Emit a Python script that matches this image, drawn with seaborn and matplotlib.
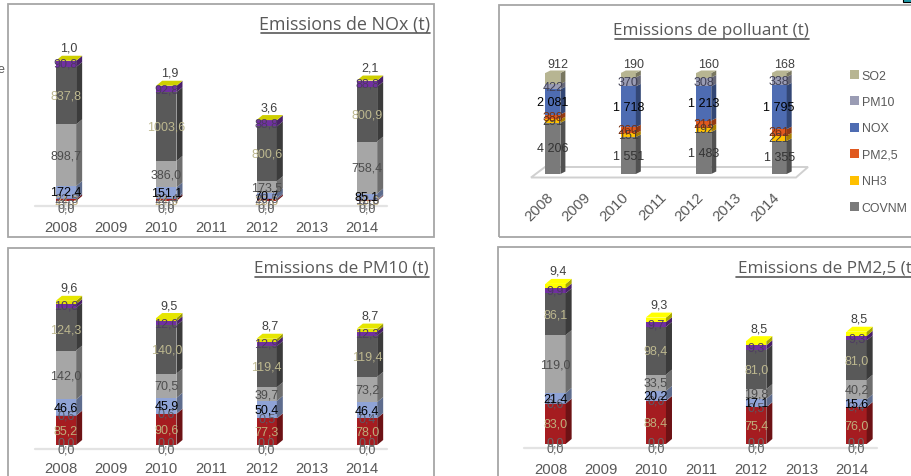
import matplotlib
matplotlib.use("Agg")
import matplotlib.pyplot as plt
from matplotlib.lines import Line2D
from matplotlib.patches import Patch, Polygon, Rectangle
from matplotlib.transforms import ScaledTranslation
import pandas as pd
import seaborn as sns

sns.set_theme(style="white")
plt.rcParams["font.family"] = ["Liberation Sans", "DejaVu Sans"]

W, H, DPI = 912, 477, 100
YEARS = [2008, 2009, 2010, 2011, 2012, 2013, 2014]
MEASURED = [2008, 2010, 2012, 2014]
GREY_TXT = "#595959"

# Emissions by sector, tonnes, stacked from the bottom of each column
nox_a = [0.0, 0.0, 0.0, 0.0]
nox_b = [0.0, 0.0, 0.0, 0.0]
nox_red = [24.3, 24.9, 23.6, 10.8]
nox_thin = [22.5, 22.4, 20.5, 12.6]
nox_blue = [172.4, 151.1, 70.7, 85.1]
nox_light = [898.7, 386.0, 173.5, 758.4]
nox_dark = [837.8, 1003.6, 800.6, 800.9]
nox_purple = [90.8, 92.8, 88.8, 88.8]
nox_yellow = [1.0, 1.9, 3.6, 2.1]

pm10_a = [0.0, 0.0, 0.0, 0.0]
pm10_b = [0.0, 0.0, 0.0, 0.0]
pm10_red = [85.2, 90.6, 77.3, 78.0]
pm10_thin = [0.6, 0.6, 0.5, 0.4]
pm10_blue = [46.6, 45.9, 50.4, 46.4]
pm10_light = [142.0, 70.5, 39.7, 73.2]
pm10_dark = [124.3, 140.0, 119.4, 119.4]
pm10_purple = [10.8, 12.0, 12.9, 12.3]
pm10_yellow = [9.6, 9.5, 8.7, 8.7]

pm25_a = [0.0, 0.0, 0.0, 0.0]
pm25_b = [0.0, 0.0, 0.0, 0.0]
pm25_red = [83.0, 88.4, 75.4, 76.0]
pm25_thin = [0.6, 0.6, 0.5, 0.4]
pm25_blue = [21.4, 20.2, 17.1, 15.6]
pm25_light = [119.0, 33.5, 19.8, 40.2]
pm25_dark = [86.1, 98.4, 81.0, 81.0]
pm25_purple = [9.9, 9.7, 9.3, 9.3]
pm25_yellow = [9.4, 9.3, 8.5, 8.5]

covnm = [4206, 1551, 1483, 1355]
nh3 = [291, 151, 192, 221]
pm25_total = [388, 260, 211, 261]
nox_total = [2081, 1718, 1213, 1795]
pm10_total = [422, 370, 308, 338]
so2 = [912, 190, 160, 168]

SECTOR_COLORS = ["#8a8a8a", "#c9a227", "#a51c20", "#7d86b8", "#8fa3d6",
                 "#a6a6a6", "#595959", "#7030a0", "#e8e800"]
SECTOR_LABEL_COLORS = ["#5a5a5a", "#6a6a6a", "#bfae7c", "#5a5a66", "#000000",
                       "#4d4d4d", "#bdb88f", "#4d3a63", "#404040"]
POLLUTANT_NAMES = ["COVNM", "NH3", "PM2,5", "NOX", "PM10", "SO2"]
POLLUTANT_COLORS = ["#7a7a7a", "#ffc000", "#e0591f", "#4e6cb2", "#9a9cb4", "#b7b592"]
POLLUTANT_LABEL_COLORS = ["#333333", "#404040", "#7a3010", "#000000", "#404055", "#404040"]
TITLE_FONT = "Open Sans"


def shade(color, factor):
    r, g, b = matplotlib.colors.to_rgb(color)
    return (r * factor, g * factor, b * factor)


def px_axes(fig, left, right, top, bottom):
    return fig.add_axes([left / W, 1 - bottom / H, (right - left) / W, (bottom - top) / H])


def fig_line(fig, x0, x1, y0, y1, **kw):
    fig.add_artist(Line2D([x0 / W, x1 / W], [1 - y0 / H, 1 - y1 / H],
                          transform=fig.transFigure, **kw))


def panel_frame(fig, left, right, top, bottom):
    fig.add_artist(Rectangle((left / W, 1 - bottom / H), (right - left) / W, (bottom - top) / H,
                             transform=fig.transFigure, fill=False,
                             edgecolor="#a6a6a6", linewidth=1.3))


def panel_title(fig, text, right, y, size, line_left):
    fig.text(right / W, 1 - y / H, text, ha="right", va="center", color=GREY_TXT,
             fontsize=size, family=TITLE_FONT)
    fig_line(fig, line_left, right, y + 9, y + 9, color=GREY_TXT, linewidth=1.2)


def stacked_columns(ax, series, colors, width, depth):
    """Stack the series with seaborn and add the side and top faces of each column."""
    bottoms = [0.0] * len(MEASURED)
    segments = []
    for values, color in zip(series, colors):
        frame = pd.DataFrame({"annee": MEASURED, "valeur": values})
        sns.barplot(data=frame, x="annee", y="valeur", order=YEARS, color=color,
                    saturation=1, width=width, bottom=bottoms, errorbar=None,
                    ax=ax, linewidth=0)
        segments.append((list(bottoms), list(values), color))
        bottoms = [b + v for b, v in zip(bottoms, values)]
    dx, dy = depth
    for base, values, color in segments:
        for year, b, v in zip(MEASURED, base, values):
            x = YEARS.index(year) + width / 2
            ax.add_patch(Polygon([(x, b), (x + dx, b + dy), (x + dx, b + v + dy), (x, b + v)],
                                 facecolor=shade(color, 0.66), edgecolor="none",
                                 clip_on=False, zorder=3))
    for year, total in zip(MEASURED, bottoms):
        x = YEARS.index(year)
        ax.add_patch(Polygon([(x - width / 2, total), (x + width / 2, total),
                              (x + width / 2 + dx, total + dy), (x - width / 2 + dx, total + dy)],
                             facecolor=colors[-1], edgecolor="none", clip_on=False, zorder=3))
    return segments


def style_axes(ax, ymax):
    ax.set_xlim(-0.5, 6.5)
    ax.set_ylim(0, ymax)
    ax.set_xlabel("")
    ax.set_ylabel("")
    ax.set_yticks([])
    ax.patch.set_alpha(0)
    for spine in ax.spines.values():
        spine.set_visible(False)


def decimal_panel(fig, title, series, left, right, top, base, scale, title_args,
                  baseline_y, label_y, top_color, zero_drop):
    ax = px_axes(fig, left, right, top, base)
    colors = list(SECTOR_COLORS)
    colors[-1] = top_color
    ymax = (base - top) / scale
    cat_px = (right - left) / 7
    segments = stacked_columns(ax, series, colors, 0.405, (6 / cat_px, 5 / scale))
    style_axes(ax, ymax)

    ax.set_xticks(range(7))
    ax.set_xticklabels(YEARS, fontsize=10.7, color=GREY_TXT)
    ax.tick_params(axis="x", length=0, pad=(label_y - 5.5 - base) * 72 / DPI)
    shift = ScaledTranslation(-5 / DPI, 0, fig.dpi_scale_trans)
    for tick in ax.get_xticklabels():
        tick.set_transform(tick.get_transform() + shift)

    fig_line(fig, left - 6, right - 5, baseline_y, baseline_y, color="#e3e3e3",
             linewidth=1.6, zorder=0)

    nudges = {0: -zero_drop[0] / scale, 1: -zero_drop[1] / scale}
    for idx, (base_vals, values, _) in enumerate(segments):
        for year, b, v in zip(MEASURED, base_vals, values):
            x = YEARS.index(year)
            y = b + v / 2 + nudges.get(idx, 0)
            if idx == len(segments) - 1:
                ax.annotate(f"{v:.1f}".replace(".", ","), (x, b + v), xytext=(3, 7),
                            textcoords="offset pixels", ha="center", va="bottom",
                            fontsize=9, color=SECTOR_LABEL_COLORS[idx],
                            annotation_clip=False, zorder=5)
                continue
            ax.text(x, y, f"{v:.1f}".replace(".", ","), ha="center", va="center",
                    fontsize=9, color=SECTOR_LABEL_COLORS[idx], clip_on=False, zorder=5)
    panel_title(fig, title, *title_args)
    return ax


def percent_panel(fig, title, series, left, right, top, base):
    totals = [sum(col) for col in zip(*series)]
    shares = [[v / t for v, t in zip(values, totals)] for values in series]
    ax = px_axes(fig, left, right, top, base)
    cat_px = (right - left) / 7
    floor = Polygon([(531 / W, 1 - 178.5 / H), (545 / W, 1 - 168 / H), (808 / W, 1 - 168 / H),
                     (796 / W, 1 - 178.5 / H)], transform=fig.transFigure, facecolor="white",
                    edgecolor="#d0d0d0", linewidth=1.4, zorder=0)
    fig.add_artist(floor)
    segments = stacked_columns(ax, shares, POLLUTANT_COLORS, 0.4,
                               (5 / cat_px, 2.5 / (base - top)))
    style_axes(ax, 1.0)

    ax.set_xticks(range(7))
    ax.set_xticklabels(YEARS, fontsize=10.8, color=GREY_TXT, rotation=45, ha="right",
                       rotation_mode="anchor")
    ax.tick_params(axis="x", length=0, pad=11)
    shift = ScaledTranslation(-7 / DPI, 0, fig.dpi_scale_trans)
    for tick in ax.get_xticklabels():
        tick.set_transform(tick.get_transform() + shift)

    for idx, ((base_vals, values, _), raw) in enumerate(zip(segments, series)):
        for year, b, v, amount in zip(MEASURED, base_vals, values, raw):
            x = YEARS.index(year)
            text = f"{amount:,}".replace(",", " ")
            if idx == len(segments) - 1:
                ax.annotate(text, (x, b + v), xytext=(5, 3), textcoords="offset pixels",
                            ha="center", va="bottom", fontsize=9,
                            color=POLLUTANT_LABEL_COLORS[idx], annotation_clip=False, zorder=5)
                continue
            ax.text(x, b + v / 2, text, ha="center", va="center", fontsize=9,
                    color=POLLUTANT_LABEL_COLORS[idx], clip_on=False, zorder=5)

    handles = [Patch(facecolor=c, edgecolor="none", label=n)
               for n, c in zip(POLLUTANT_NAMES, POLLUTANT_COLORS)][::-1]
    fig.legend(handles=handles, loc="upper left", bbox_to_anchor=(850 / W, 1 - 70.5 / H),
               frameon=False, fontsize=8.9, labelcolor=GREY_TXT, handlelength=0.75,
               handleheight=0.75, handletextpad=0.2, labelspacing=1.17, borderpad=0,
               borderaxespad=0)
    panel_title(fig, title, 809, 31, 12.3, 615)
    return ax


fig = plt.figure(figsize=(W / DPI, H / DPI), dpi=DPI, facecolor="white")

panel_frame(fig, 8, 434, 5, 238)
panel_frame(fig, 499, 925, 6, 238)
panel_frame(fig, 8, 434, 249, 490)
panel_frame(fig, 498, 925, 248, 490)

decimal_panel(fig, "Emissions de NOx (t)",
              [nox_a, nox_b, nox_red, nox_thin, nox_blue, nox_light, nox_dark, nox_purple, nox_yellow],
              40.9, 392.1, 20, 202, 0.0685, (430, 25, 12.9, 261), 206.7, 226, "#cfcf00", (7, 3))
percent_panel(fig, "Emissions de polluant (t)",
              [covnm, nh3, pm25_total, nox_total, pm10_total, so2], 534, 798, 74, 175)
decimal_panel(fig, "Emissions de PM10 (t)",
              [pm10_a, pm10_b, pm10_red, pm10_thin, pm10_blue, pm10_light, pm10_dark, pm10_purple, pm10_yellow],
              40.9, 392.1, 260, 446, 0.344, (429, 269, 12.3, 255), 450, 468, "#e6e600", (5, -2))
decimal_panel(fig, "Emissions de PM2,5 (t)",
              [pm25_a, pm25_b, pm25_red, pm25_thin, pm25_blue, pm25_light, pm25_dark, pm25_purple, pm25_yellow],
              530.4, 881.6, 260, 445, 0.486, (917, 269, 12.3, 736), 449, 468, "#ffff00", (5, -2))

# Fragments at the edges of the page
fig.text(1 / W, 1 - 70 / H, "e", fontsize=9, color=GREY_TXT, ha="center", va="center")
fig.add_artist(Rectangle((903 / W, 1 - 3 / H), 10 / W, 4 / H, transform=fig.transFigure,
                         facecolor="#1f9aa8", edgecolor="black", linewidth=0.8))

fig.savefig("out.png", dpi=DPI)
